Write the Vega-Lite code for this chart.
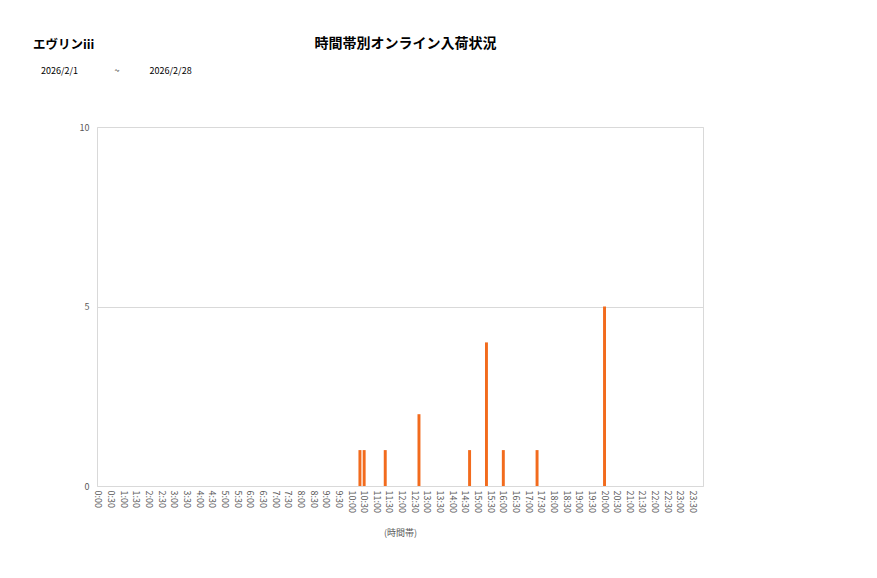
{
  "$schema": "https://vega.github.io/schema/vega-lite/v6.json",
  "autosize": {"type": "none"},
  "padding": {"left": 97, "top": 127, "right": 174, "bottom": 92},
  "width": 606,
  "height": 359,
  "background": "white",
  "config": {
    "font": "Noto Sans CJK JP",
    "view": {"stroke": "#d9d9d9", "strokeWidth": 1}
  },
  "title": {
    "text": "エヴリンiii",
    "subtitle": "\u200b\u00a0\u00a0\u00a0\u00a02026/2/1\u00a0\u00a0\u00a0\u00a0\u00a0\u00a0\u00a0\u00a0\u00a0\u00a0\u00a0\u00a0\u00a0\u00a0\u00a0\u00a0\u00a0\u00a0~\u00a0\u00a0\u00a0\u00a0\u00a0\u00a0\u00a0\u00a0\u00a0\u00a0\u00a0\u00a0\u00a0\u00a0\u00a02026/2/28",
    "anchor": "start",
    "frame": "group",
    "dx": -64,
    "offset": -40,
    "fontSize": 12.5,
    "fontWeight": "bold",
    "color": "#000000",
    "subtitleFontSize": 9,
    "subtitleColor": "#000000",
    "subtitlePadding": 16
  },
  "data": {
    "values": [
      {"time": "10:20", "count": 1},
      {"time": "10:30", "count": 1},
      {"time": "11:20", "count": 1},
      {"time": "12:40", "count": 2},
      {"time": "14:40", "count": 1},
      {"time": "15:20", "count": 4},
      {"time": "16:00", "count": 1},
      {"time": "17:20", "count": 1},
      {"time": "20:00", "count": 5}
    ]
  },
  "mark": {"type": "bar", "color": "#f26b1d"},
  "encoding": {
    "x": {
      "field": "time",
      "type": "ordinal",
      "sort": null,
      "scale": {
        "domain": ["0:00","0:10","0:20","0:30","0:40","0:50","1:00","1:10","1:20","1:30","1:40","1:50","2:00","2:10","2:20","2:30","2:40","2:50","3:00","3:10","3:20","3:30","3:40","3:50","4:00","4:10","4:20","4:30","4:40","4:50","5:00","5:10","5:20","5:30","5:40","5:50","6:00","6:10","6:20","6:30","6:40","6:50","7:00","7:10","7:20","7:30","7:40","7:50","8:00","8:10","8:20","8:30","8:40","8:50","9:00","9:10","9:20","9:30","9:40","9:50","10:00","10:10","10:20","10:30","10:40","10:50","11:00","11:10","11:20","11:30","11:40","11:50","12:00","12:10","12:20","12:30","12:40","12:50","13:00","13:10","13:20","13:30","13:40","13:50","14:00","14:10","14:20","14:30","14:40","14:50","15:00","15:10","15:20","15:30","15:40","15:50","16:00","16:10","16:20","16:30","16:40","16:50","17:00","17:10","17:20","17:30","17:40","17:50","18:00","18:10","18:20","18:30","18:40","18:50","19:00","19:10","19:20","19:30","19:40","19:50","20:00","20:10","20:20","20:30","20:40","20:50","21:00","21:10","21:20","21:30","21:40","21:50","22:00","22:10","22:20","22:30","22:40","22:50","23:00","23:10","23:20","23:30","23:40","23:50"],
        "paddingInner": 0.3,
        "paddingOuter": 0
      },
      "axis": {
        "values": ["0:00","0:30","1:00","1:30","2:00","2:30","3:00","3:30","4:00","4:30","5:00","5:30","6:00","6:30","7:00","7:30","8:00","8:30","9:00","9:30","10:00","10:30","11:00","11:30","12:00","12:30","13:00","13:30","14:00","14:30","15:00","15:30","16:00","16:30","17:00","17:30","18:00","18:30","19:00","19:30","20:00","20:30","21:00","21:30","22:00","22:30","23:00","23:30"],
        "title": "(時間帯)",
        "titleFontSize": 9,
        "titleFontWeight": "normal",
        "titleColor": "#595959",
        "titlePadding": 16,
        "labelAngle": 90,
        "labelAlign": "left",
        "labelBaseline": "middle",
        "labelFontSize": 9,
        "labelColor": "#595959",
        "labelPadding": 4,
        "labelOverlap": false,
        "ticks": false,
        "domain": false,
        "grid": false
      }
    },
    "y": {
      "field": "count",
      "type": "quantitative",
      "scale": {"domain": [0, 10], "nice": false},
      "axis": {
        "values": [0, 5, 10],
        "title": "時間帯別オンライン入荷状況",
        "titleAngle": 0,
        "titleX": 308,
        "titleY": -84,
        "titleAlign": "center",
        "titleBaseline": "middle",
        "titleFontSize": 14,
        "titleFontWeight": "bold",
        "titleColor": "#000000",
        "labelFontSize": 9,
        "labelColor": "#595959",
        "labelPadding": 8,
        "ticks": false,
        "domain": false,
        "grid": true,
        "gridColor": "#d9d9d9"
      }
    }
  }
}
